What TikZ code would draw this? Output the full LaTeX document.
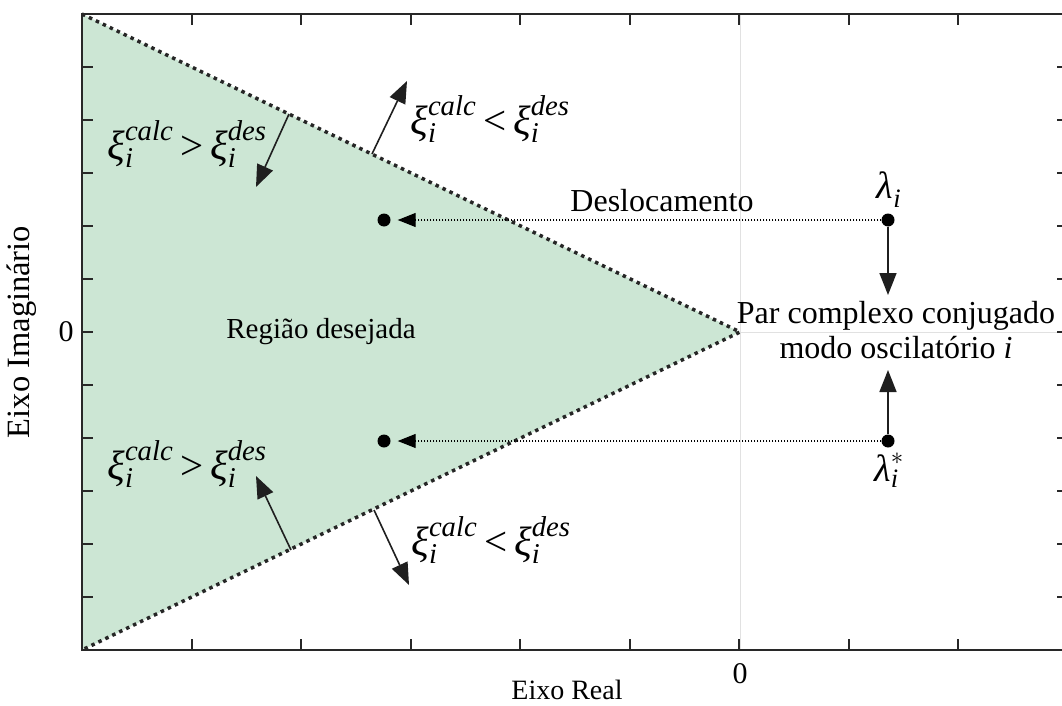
\documentclass[tikz,border=0pt]{standalone}
\usepackage{fontspec}
\setmainfont{Liberation Serif}
\usepackage{amsmath}
\usetikzlibrary{arrows.meta}
\definecolor{regfill}{RGB}{204,230,212}
\definecolor{framec}{RGB}{40,40,40}
\definecolor{axgray}{RGB}{225,225,225}
\newcommand{\gxi}{\text{\itshape ξ}}
\newcommand{\glam}{\text{\itshape λ}}
\newcommand{\myi}{\text{\itshape i}}
\newcommand{\itx}[1]{\text{\itshape #1}}
\newcommand{\cmpr}[1]{$\gxi_{\myi}^{\itx{calc}}\mathrel{\text{#1}}\gxi_{\myi}^{\itx{des}}$}
\begin{document}
\begin{tikzpicture}[x=1pt,y=-1pt,
  annot/.style={font=\fontsize{32}{36}\selectfont, inner sep=0pt},
  ineq/.style={font=\fontsize{41}{46}\selectfont, inner sep=0pt},
  eig/.style={font=\fontsize{38}{42}\selectfont, inner sep=0pt},
  axlab/.style={font=\fontsize{30}{34}\selectfont, inner sep=0pt},
  dotnode/.style={circle,fill=black,inner sep=0pt,minimum size=13pt},
  boundary/.style={line width=3.5pt,dash pattern=on 3.5pt off 4.2pt,color=black!85},
  shiftarrow/.style={line width=1.2pt,dash pattern=on 1.5pt off 1.5pt,-{Triangle[length=18pt,width=14pt]}},
  normarrow/.style={line width=1.6pt,color=black!88,-{Triangle[length=22pt,width=17pt]}},
  tick/.style={framec,line width=2pt}
]
\useasboundingbox (0,0) rectangle (1062,706);
% region
\fill[regfill] (82,14) -- (740,332) -- (82,650) -- cycle;
% axis lines
\draw[axgray,line width=1pt] (740,14) -- (740,650);
\draw[axgray,line width=1pt] (740,332) -- (1068,332);
% boundary
\draw[boundary] (82,14) -- (740,332) -- (82,650);
% frame and ticks
\draw[framec,line width=2pt] (82,14) rectangle (1068,650);
\foreach \k in {1,...,8} {
  \draw[tick] (82+109.56*\k,650) -- ++(0,-11);
  \draw[tick] (82+109.56*\k,14) -- ++(0,11);
}
\foreach \k in {1,...,11} {
  \draw[tick] (82,14+53*\k) -- ++(11,0);
  \draw[tick] (1068,14+53*\k) -- ++(-11,0);
}
% axis labels
\node[axlab] (x0) at (740,674) {0};
\node[axlab] (y0) at (66,332) {0};
\node[axlab,font=\fontsize{28}{32}\selectfont] (xl) at (567,690) {Eixo Real};
\node[axlab,font=\fontsize{32.5}{36}\selectfont,rotate=90] (yl) at (22,332) {Eixo Imaginário};
% points
\node[dotnode] (r1) at (888,220) {};
\node[dotnode] (l1) at (384,220) {};
\node[dotnode] (r2) at (888,441) {};
\node[dotnode] (l2) at (384,441) {};
\draw[shiftarrow,shorten >=7pt] (r1) -- (l1);
\draw[shiftarrow,shorten >=7pt] (r2) -- (l2);
\node[annot] (desl) at (662,201) {Deslocamento};
\node[eig] (lam) at (889,190) {$\glam_{\myi}$};
\node[eig] (lams) at (889,470) {$\glam_{\myi}^{*}$};
\node[annot,align=center] (par) at (896,330) {Par complexo conjugado\\[-1pt]modo oscilatório \textit{i}};
\coordinate (pt) at (888,295);
\coordinate (pb) at (888,370);
\draw[normarrow] (r1) -- (pt);
\draw[normarrow] (r2) -- (pb);
\node[annot,font=\fontsize{29}{34}\selectfont] (reg) at (321,332) {Região desejada};
% boundary arrows
\coordinate (e1) at (289,114);
\coordinate (t1) at (256,187);
\coordinate (e2) at (372,154);
\coordinate (t2) at (407,81);
\coordinate (e3) at (291,550);
\coordinate (t3) at (256,476);
\coordinate (e4) at (374,510);
\coordinate (t4) at (409,585);
\draw[normarrow] (e1) -- (t1);
\draw[normarrow] (e2) -- (t2);
\draw[normarrow] (e3) -- (t3);
\draw[normarrow] (e4) -- (t4);
\node[ineq] (lab1) at (187,144) {\cmpr{>}};
\node[ineq] (lab2) at (490,119) {\cmpr{<}};
\node[ineq] (lab3) at (187,464) {\cmpr{>}};
\node[ineq] (lab4) at (491,540) {\cmpr{<}};
\end{tikzpicture}
\end{document}
